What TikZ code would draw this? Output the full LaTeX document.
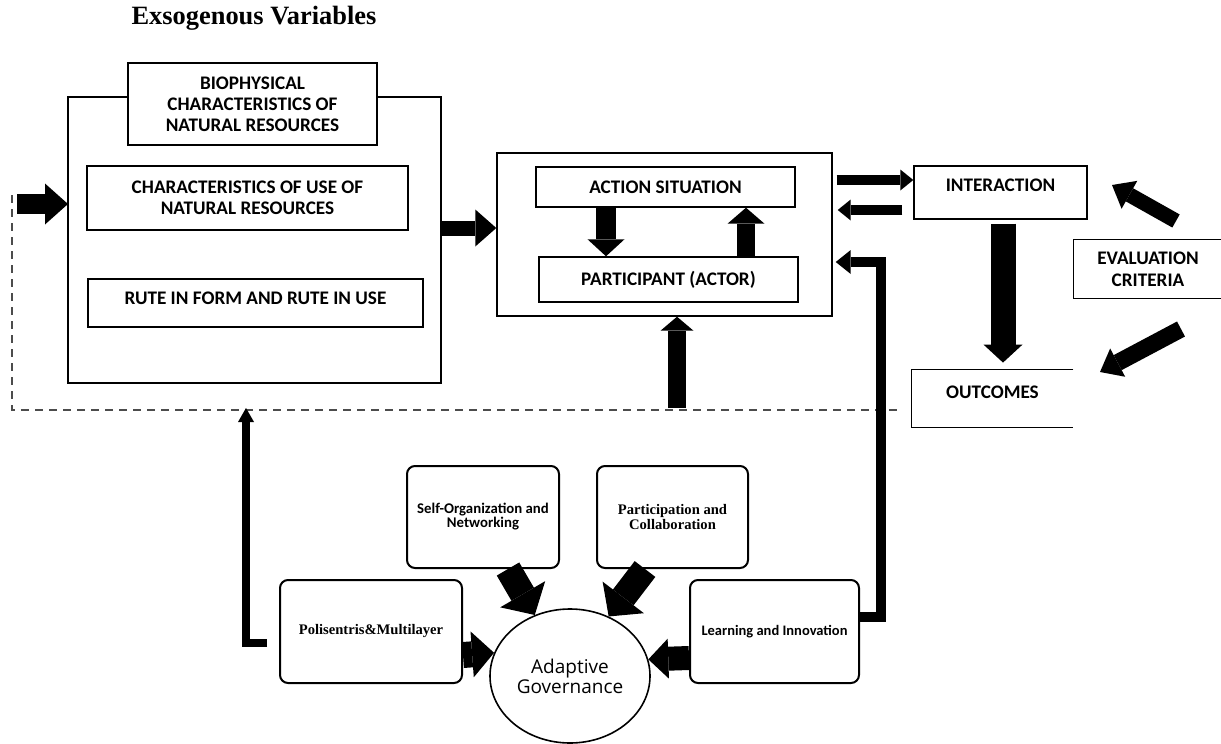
\documentclass[tikz,border=0pt]{standalone}
\usepackage{fontspec}
\setmainfont{Liberation Serif}
\newfontfamily\carl{Carlito}
\newfontfamily\opens{Open Sans}
\usetikzlibrary{arrows.meta,calc,shapes.geometric}
\begin{document}
\begin{tikzpicture}[x=0.5pt,y=-0.5pt,
  box/.style={draw,line width=0.7pt,inner sep=0pt,align=center,
    font=\carl\bfseries\fontsize{9.6}{10.4}\selectfont},
  obox/.style={inner sep=0pt,align=center,
    font=\carl\bfseries\fontsize{9.6}{11}\selectfont},
  rbox/.style={draw,line width=1pt,rounded corners=4pt,inner sep=0pt,align=center},
  sansS/.style={font=\carl\bfseries\fontsize{7.4}{7}\selectfont},
  serifS/.style={font=\bfseries\fontsize{7.3}{6.4}\selectfont},
  bigline/.style={line width=1.3pt},
  openline/.style={line width=0.7pt},
  dashline/.style={line width=0.6pt,gray!60!black,dash pattern=on 4pt off 3pt},
  fat/.style n args={3}{line width=#1,line join=miter,
    -{Triangle[width=#2,length=#3,line width=0pt]}},
]
\useasboundingbox (0,0) rectangle (1221,744);

% title
\node[font=\bfseries\fontsize{13.2}{15}\selectfont] (title) at (254,18) {Exsogenous Variables};

% exogenous variables
\node[box,minimum width=124.5pt,minimum height=41pt] (bio) at (252.5,104)
  {BIOPHYSICAL\\CHARACTERISTICS OF\\NATURAL RESOURCES};
\node[box,minimum width=160.5pt,minimum height=32pt,
  font=\carl\bfseries\fontsize{9.6}{10.6}\selectfont] (use) at (247.5,198)
  {CHARACTERISTICS OF USE OF\\NATURAL RESOURCES};
\node[box,minimum width=167.5pt,minimum height=24pt] (rute) at (255.5,303)
  {\raisebox{5pt}{RUTE IN FORM AND RUTE IN USE}};
\coordinate (exTL) at (68,97);
\coordinate (exBR) at (441,383);
\draw[bigline] (exTL -| bio.west) -- (exTL) |- (exBR) |- (exTL -| bio.east);

% action arena
\node[box,minimum width=167.5pt,minimum height=81.5pt] (act) at (664.5,234.5) {};
\node[box,minimum width=129.5pt,minimum height=20pt] (actsit) at (665.5,187) {ACTION SITUATION};
\node[box,minimum width=129.5pt,minimum height=22.5pt] (part) at (668.5,279.5) {PARTICIPANT (ACTOR)};

% interaction, outcomes, evaluation
\node[box,minimum width=86.5pt,minimum height=26.5pt] (inter) at (1000.5,192.5)
  {\raisebox{7pt}{INTERACTION}};
\node[obox,minimum width=80.5pt,minimum height=28.5pt] (out) at (992.5,398.5)
  {\raisebox{6.5pt}{OUTCOMES}};
\draw[openline] (out.north east) -- (out.north west) -- (out.south west) -- (out.south east);
\node[obox,minimum width=74pt,minimum height=29pt] (eval) at (1148,269)
  {EVALUATION\\CRITERIA};
\draw[openline] (eval.north east) -- (eval.north west) -- (eval.south west) -- (eval.south east);

% dashed boundary
\coordinate (dashA) at (12,195);
\coordinate (dashB) at (12,410);
\coordinate (dashC) at (897,410);
\draw[dashline] (dashA) -- (dashB) -- (dashC);

% adaptive governance
\node[rbox,minimum width=76pt,minimum height=51pt,sansS] (self) at (483,517)
  {Self-Organization and\\Networking};
\node[rbox,minimum width=75.5pt,minimum height=51pt,serifS] (partc) at (672.5,517)
  {Participation and\\Collaboration};
\node[rbox,minimum width=91pt,minimum height=51.5pt,serifS] (polis) at (371,631.5)
  {Polisentris\&Multilayer};
\node[rbox,minimum width=84.5pt,minimum height=51.5pt,
  font=\carl\bfseries\fontsize{7.25}{7}\selectfont] (learn) at (774.5,631.5)
  {Learning and Innovation};
\node[draw,ellipse,line width=0.8pt,inner sep=0pt,minimum width=80pt,minimum height=67pt,
  align=center,font=\opens\fontsize{9.5}{10}\selectfont] (ell) at (570,676)
  {Adaptive\\Governance};

% fat arrows
\coordinate (in) at (17,204);
\draw[fat={10pt}{20.5pt}{11.5pt}] (in) -- (in -| exTL);
\draw[fat={7.5pt}{18.5pt}{10.5pt}] (exBR |- 0,228) -- (act.west |- 0,228);
\draw[fat={10pt}{18.5pt}{8.5pt}] (actsit.south -| 606,0) -- (part.north -| 606,0);
\draw[fat={9pt}{18.5pt}{8pt}] (part.north -| 746,0) -- (actsit.south -| 746,0);
\coordinate (up) at (677,408);
\draw[fat={9pt}{16.5pt}{7pt}] (up) -- (act.south -| up);
\draw[fat={5pt}{10.5pt}{6.5pt},shorten <=2pt] (act.east |- 0,180) -- (inter.west |- 0,180);
\draw[fat={5pt}{10.5pt}{6.5pt},shorten <=5.5pt,shorten >=2.5pt] (inter.west |- 0,210) -- (act.east |- 0,210);
\draw[fat={12.5pt}{19.5pt}{9pt},shorten <=2pt,shorten >=3.5pt] (inter.south -| 1003,0) -- (out.north -| 1003,0);
\coordinate (e1s) at (1176,221);
\coordinate (e1t) at (1112,185);
\draw[fat={7.5pt}{16pt}{10pt}] (e1s) -- (e1t);
\coordinate (e2s) at (1181,329);
\coordinate (e2t) at (1100,372);
\draw[fat={8.5pt}{16pt}{10pt}] (e2s) -- (e2t);

% feedback arrows
\coordinate (fbR) at (881,262);
\draw[fat={5pt}{12pt}{7.5pt},shorten <=-1pt,shorten >=1.5pt] (learn.east |- 0,617) -| (fbR) -- (act.east |- fbR);
\coordinate (fbL) at (246,643);
\draw[fat={4pt}{8pt}{7pt},shorten <=6pt] (polis.west |- fbL) -- (fbL) -- (fbL |- up);

% arrows into adaptive governance
\draw[fat={13pt}{26pt}{12pt}] (self.south -| 508,0) -- (ell.120);
\draw[fat={13pt}{26pt}{12pt}] (partc.south -| 645,0) -- (ell.57);
\draw[fat={13pt}{23pt}{11pt}] (polis.east |- 0,655) -- (ell.163);
\draw[fat={12pt}{20pt}{10pt}] (learn.west |- 0,658) -- (ell.12);
\end{tikzpicture}
\end{document}
